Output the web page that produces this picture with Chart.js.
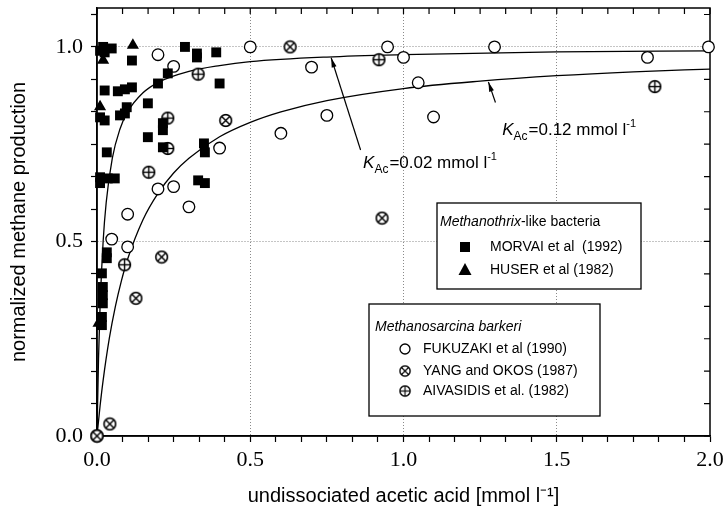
<!DOCTYPE html>
<html>
<head>
<meta charset="utf-8">
<script src="https://cdn.jsdelivr.net/npm/chart.js@4.4.0/dist/chart.umd.min.js"></script>
<style>
  body { margin: 0; background: #fff; }
  #wrap { width: 726px; height: 518px; }
</style>
</head>
<body>
<div id="wrap"><canvas id="chart" width="726" height="518"></canvas></div>
<script>
// tick labels
const xTickValues = [0, 0.5, 1.0, 1.5, 2.0];
const xTickLabels = ['0.0', '0.5', '1.0', '1.5', '2.0'];
const yTickValues = [0, 0.5, 1.0];
const yTickLabels = ['0.0', '0.5', '1.0'];

// Methanothrix-like bacteria
const morvaiX = [0.02, 0.048, 0.025, 0.01, 0.114, 0.287, 0.326, 0.326, 0.389, 0.231, 0.199, 0.40,
  0.025, 0.068, 0.091, 0.114, 0.166, 0.097, 0.091, 0.075, 0.01, 0.025, 0.215, 0.215, 0.166, 0.215,
  0.349, 0.352, 0.032, 0.01, 0.035, 0.058, 0.01, 0.33, 0.352, 0.032, 0.032, 0.016, 0.019, 0.019,
  0.019, 0.016, 0.016];
const morvaiY = [1.0, 0.996, 0.986, 0.99, 0.965, 1.0, 0.983, 0.973, 0.986, 0.932, 0.906, 0.906,
  0.888, 0.886, 0.891, 0.896, 0.855, 0.845, 0.829, 0.824, 0.819, 0.811, 0.804, 0.786, 0.768, 0.742,
  0.752, 0.729, 0.729, 0.665, 0.662, 0.662, 0.65, 0.657, 0.65, 0.472, 0.457, 0.418, 0.383, 0.362,
  0.341, 0.306, 0.285];
const huserX = [0.117, 0.02, 0.01, 0.005];
const huserY = [1.004, 0.966, 0.846, 0.29];

// Methanosarcina barkeri
const fukuzakiX = [0.199, 0.25, 0.5, 0.70, 0.948, 1.0, 1.297, 1.995, 1.796, 1.048, 0.75, 1.098,
  0.60, 0.40, 0.199, 0.25, 0.30, 0.10, 0.048, 0.10];
const fukuzakiY = [0.98, 0.95, 1.0, 0.948, 1.0, 0.973, 1.0, 1.0, 0.973, 0.908, 0.824, 0.82,
  0.778, 0.74, 0.635, 0.641, 0.589, 0.57, 0.506, 0.486];
const yangX = [0, 0.042, 0.127, 0.211, 0.42, 0.63, 0.93];
const yangY = [0, 0.031, 0.354, 0.46, 0.811, 1.0, 0.56];
const aivasidisX = [0, 0.09, 0.169, 0.231, 0.231, 0.33, 0.92, 1.82];
const aivasidisY = [0, 0.44, 0.678, 0.739, 0.817, 0.93, 0.967, 0.898];

// fitted curves
const curveLowKX = [0, 0.005, 0.01, 0.02, 0.03, 0.05, 0.075, 0.1, 0.15, 0.2, 0.3, 0.4, 0.5, 0.75, 1.0, 1.5, 2.0];
const curveLowKY = [0, 0.2, 0.333, 0.5, 0.6, 0.714, 0.789, 0.833, 0.882, 0.909, 0.937, 0.952, 0.962, 0.974, 0.980, 0.987, 0.990];
const curveHighKX = [0, 0.01, 0.02, 0.04, 0.06, 0.08, 0.1, 0.15, 0.2, 0.25, 0.3, 0.4, 0.5, 0.6, 0.75, 1.0, 1.25, 1.5, 1.75, 2.0];
const curveHighKY = [0, 0.077, 0.143, 0.25, 0.333, 0.4, 0.455, 0.556, 0.625, 0.676, 0.714, 0.769, 0.806, 0.833, 0.862, 0.893, 0.912, 0.926, 0.936, 0.943];

const SANS = '"Liberation Sans", Arial, sans-serif';
const SERIF = '"Liberation Serif", "Times New Roman", serif';

const pts = (xs, ys) => xs.map((x, i) => ({ x: x, y: ys[i] }));
const near = (v, list) => list.findIndex(t => Math.abs(t - v) < 1e-6);

// open circle with a cross or a plus in it, drawn at 4x and shown at 15px
function markerImage(kind) {
  const S = 4;
  const c = document.createElement('canvas');
  c.width = 15 * S; c.height = 15 * S;
  const g = c.getContext('2d');
  g.scale(S, S);
  g.fillStyle = '#fff';
  g.strokeStyle = '#000';
  g.lineWidth = 1.6;
  g.beginPath();
  g.arc(7.5, 7.5, 5.8, 0, Math.PI * 2);
  g.fill();
  g.stroke();
  g.lineWidth = 1.4;
  g.beginPath();
  if (kind === 'x') {
    g.moveTo(3.4, 3.4); g.lineTo(11.6, 11.6);
    g.moveTo(11.6, 3.4); g.lineTo(3.4, 11.6);
  } else {
    g.moveTo(7.5, 1.3); g.lineTo(7.5, 13.7);
    g.moveTo(1.3, 7.5); g.lineTo(13.7, 7.5);
  }
  g.stroke();
  const img = new Image(15, 15);
  img.src = c.toDataURL();
  return img;
}
const crossMark = markerImage('x');
const plusMark = markerImage('+');

function minorTicks(max) {
  const out = [];
  for (let i = 0; i / 12 <= max + 1e-9; i++) out.push({ value: i / 12 });
  return out;
}

function drawLegendSymbol(ctx, kind, x, y) {
  ctx.save();
  ctx.fillStyle = '#000';
  ctx.strokeStyle = '#000';
  ctx.lineWidth = 1.3;
  if (kind === 'square') {
    ctx.fillRect(x - 5, y - 5, 10, 10);
  } else if (kind === 'triangle') {
    ctx.beginPath();
    ctx.moveTo(x, y - 7); ctx.lineTo(x + 6.5, y + 5); ctx.lineTo(x - 6.5, y + 5);
    ctx.closePath(); ctx.fill();
  } else if (kind === 'circle') {
    ctx.beginPath(); ctx.arc(x, y, 5, 0, Math.PI * 2); ctx.stroke();
  } else if (kind === 'x') {
    ctx.drawImage(crossMark, x - 6.5, y - 6.5, 13, 13);
  } else {
    ctx.drawImage(plusMark, x - 6.5, y - 6.5, 13, 13);
  }
  ctx.restore();
}

// K label with subscript and superscript
function drawK(ctx, x, y, value) {
  ctx.save();
  ctx.fillStyle = '#000';
  ctx.textBaseline = 'alphabetic';
  ctx.font = 'italic 17px ' + SANS;
  ctx.fillText('K', x, y);
  let w = ctx.measureText('K').width;
  ctx.font = '12px ' + SANS;
  ctx.fillText('Ac', x + w, y + 5);
  w += ctx.measureText('Ac').width + 1;
  ctx.font = '17px ' + SANS;
  const s = '=' + value + ' mmol l';
  ctx.fillText(s, x + w, y);
  w += ctx.measureText(s).width;
  ctx.font = '11px ' + SANS;
  ctx.fillText('-1', x + w, y - 8);
  ctx.restore();
}

function drawArrow(ctx, x1, y1, x2, y2) {
  const ang = Math.atan2(y2 - y1, x2 - x1);
  ctx.save();
  ctx.strokeStyle = '#000';
  ctx.fillStyle = '#000';
  ctx.lineWidth = 1.2;
  ctx.beginPath(); ctx.moveTo(x1, y1); ctx.lineTo(x2, y2); ctx.stroke();
  ctx.beginPath();
  ctx.moveTo(x2, y2);
  ctx.lineTo(x2 - 10 * Math.cos(ang - 0.25), y2 - 10 * Math.sin(ang - 0.25));
  ctx.lineTo(x2 - 10 * Math.cos(ang + 0.25), y2 - 10 * Math.sin(ang + 0.25));
  ctx.closePath(); ctx.fill();
  ctx.restore();
}

function drawBox(ctx, left, top, w, h) {
  ctx.save();
  ctx.fillStyle = '#fff';
  ctx.fillRect(left, top, w, h);
  ctx.strokeStyle = '#000';
  ctx.lineWidth = 1.3;
  ctx.strokeRect(left, top, w, h);
  ctx.restore();
}

const framePlugin = {
  id: 'frame',
  beforeDatasetsDraw(chart) {
    const { ctx, chartArea: a, scales } = chart;
    ctx.save();
    ctx.strokeStyle = '#000';
    ctx.lineWidth = 1.5;
    ctx.strokeRect(a.left, a.top, a.right - a.left, a.bottom - a.top);
    // inward ticks on top and right
    ctx.lineWidth = 1.2;
    ctx.beginPath();
    scales.x.ticks.forEach(t => {
      const px = scales.x.getPixelForValue(t.value);
      ctx.moveTo(px, a.top); ctx.lineTo(px, a.top + 6);
    });
    scales.y.ticks.forEach(t => {
      const py = scales.y.getPixelForValue(t.value);
      ctx.moveTo(a.right, py); ctx.lineTo(a.right - 6, py);
    });
    ctx.stroke();
    ctx.restore();
  },
  afterDatasetsDraw(chart) {
    const { ctx, scales } = chart;
    const X = v => scales.x.getPixelForValue(v);
    const Y = v => scales.y.getPixelForValue(v);

    drawArrow(ctx, X(0.86), Y(0.735), X(0.764), Y(0.972));
    drawK(ctx, X(0.868), Y(0.688), '0.02');
    drawArrow(ctx, X(1.30), Y(0.857), X(1.277), Y(0.91));
    drawK(ctx, X(1.322), Y(0.773), '0.12');

    // Methanothrix box
    drawBox(ctx, 437, 203, 204, 86);
    ctx.save();
    ctx.fillStyle = '#000';
    ctx.textBaseline = 'middle';
    ctx.font = 'italic 14px ' + SANS;
    ctx.fillText('Methanothrix', 440, 222);
    const w = ctx.measureText('Methanothrix').width;
    ctx.font = '14px ' + SANS;
    ctx.fillText('-like bacteria', 440 + w, 222);
    ctx.fillText('MORVAI et al  (1992)', 490, 247);
    ctx.fillText('HUSER et al (1982)', 490, 270);
    ctx.restore();
    drawLegendSymbol(ctx, 'square', 465, 247);
    drawLegendSymbol(ctx, 'triangle', 465, 270);

    // Methanosarcina box
    drawBox(ctx, 369, 304, 231, 112);
    ctx.save();
    ctx.fillStyle = '#000';
    ctx.textBaseline = 'middle';
    ctx.font = 'italic 14px ' + SANS;
    ctx.fillText('Methanosarcina barkeri', 375, 327);
    ctx.font = '14px ' + SANS;
    ctx.fillText('FUKUZAKI et al (1990)', 423, 349);
    ctx.fillText('YANG and OKOS (1987)', 423, 371);
    ctx.fillText('AIVASIDIS et al. (1982)', 423, 391);
    ctx.restore();
    drawLegendSymbol(ctx, 'circle', 405, 349);
    drawLegendSymbol(ctx, 'x', 405, 371);
    drawLegendSymbol(ctx, '+', 405, 391);
  }
};

const gridColor = (list, ends) => c => {
  if (!c.tick) return 'rgba(0,0,0,0)';
  const v = c.tick.value;
  return (near(v, list) >= 0 && ends.indexOf(v) < 0) ? '#8a8a8a' : 'rgba(0,0,0,0)';
};

function buildChart() {
  new Chart(document.getElementById('chart'), {
    type: 'scatter',
    data: {
      datasets: [
        { label: 'K=0.02', data: pts(curveLowKX, curveLowKY), showLine: true, borderColor: '#000',
          borderWidth: 1.3, pointRadius: 0, cubicInterpolationMode: 'monotone', order: 10 },
        { label: 'K=0.12', data: pts(curveHighKX, curveHighKY), showLine: true, borderColor: '#000',
          borderWidth: 1.3, pointRadius: 0, cubicInterpolationMode: 'monotone', order: 10 },
        { label: 'MORVAI et al (1992)', data: pts(morvaiX, morvaiY), pointStyle: 'rect', pointRadius: 7,
          backgroundColor: '#000', borderColor: '#000', borderWidth: 0, clip: false },
        { label: 'HUSER et al (1982)', data: pts(huserX, huserY), pointStyle: 'triangle', pointRadius: 7,
          backgroundColor: '#000', borderColor: '#000', borderWidth: 0, clip: false },
        { label: 'FUKUZAKI et al (1990)', data: pts(fukuzakiX, fukuzakiY), pointStyle: 'circle', pointRadius: 5.8,
          backgroundColor: '#fff', borderColor: '#000', borderWidth: 1.3, clip: false },
        { label: 'YANG and OKOS (1987)', data: pts(yangX, yangY), pointStyle: crossMark, clip: false },
        { label: 'AIVASIDIS et al. (1982)', data: pts(aivasidisX, aivasidisY), pointStyle: plusMark, clip: false }
      ]
    },
    options: {
      responsive: false,
      animation: false,
      events: [],
      layout: { padding: { left: 0, top: 8, right: 16, bottom: 0 } },
      plugins: { legend: { display: false }, tooltip: { enabled: false } },
      scales: {
        x: {
          type: 'linear', min: 0, max: 2,
          afterBuildTicks: s => { s.ticks = minorTicks(2); },
          afterFit: s => { s.height = 82; s.paddingLeft = 0; s.paddingRight = 0; },
          ticks: {
            autoSkip: false, maxRotation: 0, padding: 5, color: '#000',
            font: { family: SERIF, size: 22 },
            callback: v => { const k = near(v, xTickValues); return k >= 0 ? xTickLabels[k] : ''; }
          },
          grid: { color: gridColor(xTickValues, [0, 2]), tickColor: '#000', tickLength: 6, tickWidth: 1.2, lineWidth: 1 },
          border: { display: true, color: '#000', width: 1.5, dash: [1, 2] },
          title: { display: true, text: 'undissociated acetic acid [mmol l\u207B\u00B9]', color: '#000',
            font: { family: SANS, size: 20 }, padding: { top: 0, bottom: 10 } }
        },
        y: {
          type: 'linear', min: 0, max: 1.1,
          afterBuildTicks: s => { s.ticks = minorTicks(1.1); },
          afterFit: s => { s.width = 97; s.paddingTop = 0; s.paddingBottom = 0; },
          ticks: {
            autoSkip: false, padding: 8, color: '#000',
            font: { family: SERIF, size: 22 },
            callback: v => { const k = near(v, yTickValues); return k >= 0 ? yTickLabels[k] : ''; }
          },
          grid: { color: gridColor(yTickValues, [0]), tickColor: '#000', tickLength: 6, tickWidth: 1.2, lineWidth: 1 },
          border: { display: true, color: '#000', width: 1.5, dash: [1, 2] },
          title: { display: true, text: 'normalized methane production', color: '#000',
            font: { family: SANS, size: 20 }, padding: { top: 7, bottom: 0 } }
        }
      }
    },
    plugins: [framePlugin]
  });
}

// wait for the marker images before drawing
Promise.all([crossMark, plusMark].map(img => img.complete ? Promise.resolve() :
  new Promise(res => { img.onload = res; img.onerror = res; }))).then(buildChart);
</script>
</body>
</html>
